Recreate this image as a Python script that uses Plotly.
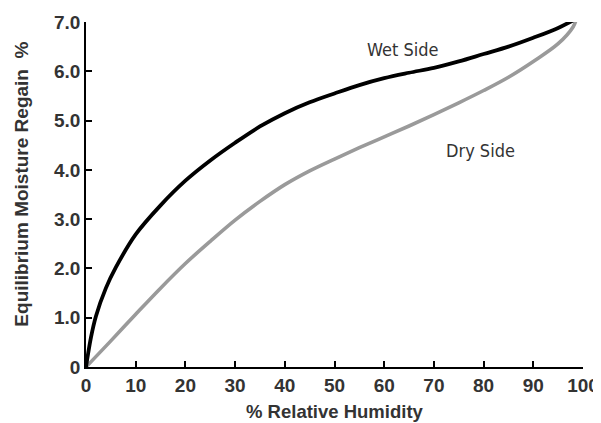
import plotly.graph_objects as go

# Wet side curve
wet_x = [0, 1, 2, 4, 6, 10, 15, 20, 25, 30, 35, 40, 45, 50, 55, 60, 65, 70, 75, 80, 85, 90, 95, 98.7]
wet_y = [0, 0.6, 1.03, 1.6, 2.02, 2.69, 3.28, 3.78, 4.19, 4.55, 4.88, 5.15, 5.37, 5.55, 5.72, 5.86, 5.97,
         6.07, 6.2, 6.35, 6.5, 6.68, 6.88, 7.07]

# Dry side curve
dry_x = [0, 5, 10, 15, 20, 25, 30, 35, 40, 45, 50, 55, 60, 65, 70, 75, 80, 85, 90, 95, 98, 98.7]
dry_y = [0, 0.53, 1.07, 1.6, 2.1, 2.55, 2.98, 3.36, 3.7, 3.98, 4.22, 4.45, 4.67, 4.89, 5.12, 5.36, 5.61,
         5.88, 6.2, 6.56, 6.9, 7.07]

x_ticks = [0, 10, 20, 30, 40, 50, 60, 70, 80, 90, 100]
x_tick_text = ["0", "10", "20", "30", "40", "50", "60", "70", "80", "90", "100"]
y_ticks = [0, 1, 2, 3, 4, 5, 6, 7]
y_tick_text = ["0", "1.0", "2.0", "3.0", "4.0", "5.0", "6.0", "7.0"]

series_labels = ["Wet Side", "Dry Side"]
label_pos_x = [63.6, 79.3]
label_pos_y = [6.44, 4.4]

TXT = "#333333"
bold_font = dict(family="Liberation Sans, Arial, sans-serif", size=19, color=TXT, weight="bold")
title_font = dict(family="Liberation Sans, Arial, sans-serif", size=18.5, color=TXT, weight="bold")

fig = go.Figure()
fig.add_trace(go.Scatter(x=dry_x, y=dry_y, mode="lines",
                         line=dict(color="#9a9a9a", width=3.6, shape="spline", smoothing=1.0),
                         name=series_labels[1], hoverinfo="skip"))
fig.add_trace(go.Scatter(x=wet_x, y=wet_y, mode="lines",
                         line=dict(color="#000000", width=3.8, shape="spline", smoothing=1.0),
                         name=series_labels[0], hoverinfo="skip"))

for t, xx, yy in zip(series_labels, label_pos_x, label_pos_y):
    fig.add_annotation(x=xx, y=yy, text=t, showarrow=False, xanchor="center", yanchor="middle",
                       font=dict(family="Liberation Sans Narrow, DejaVu Sans Condensed, Arial Narrow, sans-serif",
                                 size=18, color=TXT))

fig.add_annotation(xref="paper", yref="paper", x=0.5, y=-0.129, text="% Relative Humidity",
                   showarrow=False, xanchor="center", yanchor="middle", borderpad=0, font=title_font)
fig.add_annotation(xref="paper", yref="paper", x=-0.1298, y=0.53,
                   text="Equilibrium Moisture Regain\u00a0\u00a0%", textangle=-90,
                   showarrow=False, xanchor="center", yanchor="middle", font=bold_font)

axis_common = dict(showgrid=False, zeroline=False, showline=True, linecolor="#000000", linewidth=1.6,
                   ticks="inside", ticklen=6, tickwidth=1.6, tickcolor="#000000",
                   tickfont=bold_font, mirror=False, automargin=False)

fig.update_xaxes(range=[0, 100], tickvals=x_ticks, ticktext=x_tick_text, **axis_common)
fig.update_yaxes(range=[0, 7], tickvals=y_ticks, ticktext=y_tick_text, **axis_common)

# page body has an 8px default margin, so the figure is sized/offset to land on the 601x423 window
fig.update_layout(width=593, height=415, margin=dict(l=78, r=18, t=14, b=56),
                  paper_bgcolor="white", plot_bgcolor="white", showlegend=False)

fig.write_html("out.html")
